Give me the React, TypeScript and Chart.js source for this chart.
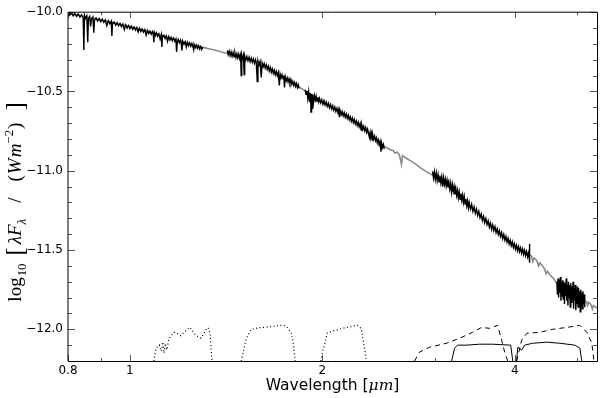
import React, { useEffect, useRef } from "react";
import { Chart, registerables } from "chart.js";
Chart.register(...registerables);

// ---- axis ticks ----
const xMajorTicks = [0.8, 1, 2, 4];
const xMinorTicks = [0.9, 3, 5];
const yMajorTicks = [-12.0, -11.5, -11.0, -10.5, -10.0];
const yMinorTicks = [-12.1, -11.9, -11.8, -11.7, -11.6, -11.4, -11.3, -11.2, -11.1, -10.9, -10.8, -10.7, -10.6, -10.4, -10.3, -10.2, -10.1];

// ---- model spectrum (gray) [wavelength um, log10 flux] ----
const modelSpectrum: number[][] = [
  [0.8, -10.008], [0.9, -10.048], [1.0, -10.09], [1.1, -10.134], [1.2, -10.184], [1.28, -10.214],
  [1.3, -10.222], [1.32, -10.228], [1.34, -10.234], [1.36, -10.24], [1.38, -10.246], [1.4, -10.254],
  [1.42, -10.26], [1.5, -10.284], [1.6, -10.318], [1.7, -10.386], [1.8, -10.446], [1.84, -10.474],
  [1.86, -10.484], [1.88, -10.496], [1.95, -10.54], [2.0, -10.57], [2.1, -10.616], [2.2, -10.666],
  [2.3, -10.716], [2.4, -10.786], [2.5, -10.846], [2.55, -10.866], [2.58, -10.872], [2.6, -10.89],
  [2.62, -10.882], [2.64, -10.9], [2.66, -10.96], [2.67, -10.905], [2.7, -10.918], [2.75, -10.938],
  [2.8, -10.958], [2.85, -10.982], [2.9, -11.002], [2.95, -11.02], [3.0, -11.036], [3.2, -11.126],
  [3.4, -11.224], [3.6, -11.312], [3.8, -11.4], [4.0, -11.474], [4.2, -11.526], [4.25, -11.538],
  [4.27, -11.572], [4.29, -11.55], [4.33, -11.566], [4.36, -11.6], [4.38, -11.58], [4.42, -11.6],
  [4.45, -11.616], [4.48, -11.65], [4.5, -11.634], [4.55, -11.66], [4.6, -11.68], [4.65, -11.706],
  [4.8, -11.75], [5.0, -11.79], [5.1, -11.81], [5.18, -11.826], [5.2, -11.85], [5.22, -11.83],
  [5.26, -11.842], [5.29, -11.872], [5.31, -11.85], [5.38, -11.866],
];

// ---- observed spectrum segments (black) ----
const obsSegment1: number[][] = [
  [0.8, -9.998], [0.805, -10.018], [0.81, -10.002], [0.815, -10.023], [0.82, -10.007], [0.825, -10.027],
  [0.83, -10.011], [0.835, -10.031], [0.84, -10.016], [0.845, -10.036], [0.847, -10.238], [0.849, -10.019],
  [0.852, -10.039], [0.856, -10.023], [0.859, -10.19], [0.861, -10.043], [0.865, -10.028], [0.868, -10.09],
  [0.87, -10.048], [0.875, -10.031], [0.878, -10.13], [0.88, -10.052], [0.885, -10.036], [0.89, -10.056],
  [0.895, -10.04], [0.9, -10.06], [0.905, -10.044], [0.91, -10.064], [0.915, -10.049], [0.92, -10.085],
  [0.925, -10.053], [0.93, -10.073], [0.935, -10.057], [0.937, -10.15], [0.939, -10.077], [0.945, -10.062],
  [0.95, -10.082], [0.955, -10.066], [0.96, -10.086], [0.965, -10.071], [0.97, -10.091], [0.975, -10.075],
  [0.98, -10.11], [0.985, -10.08], [0.99, -10.1], [0.995, -10.084], [1.0, -10.104], [1.005, -10.088],
  [1.01, -10.108], [1.015, -10.093], [1.02, -10.113], [1.025, -10.097], [1.03, -10.125], [1.035, -10.101],
  [1.04, -10.122], [1.045, -10.106], [1.05, -10.126], [1.055, -10.11], [1.06, -10.145], [1.065, -10.115],
  [1.07, -10.135], [1.075, -10.119], [1.08, -10.139], [1.085, -10.123], [1.088, -10.143], [1.09, -10.19],
  [1.092, -10.128], [1.096, -10.148], [1.1, -10.13], [1.105, -10.152], [1.11, -10.137], [1.115, -10.17],
  [1.12, -10.141], [1.122, -10.22], [1.124, -10.161], [1.13, -10.146], [1.135, -10.166], [1.14, -10.15],
  [1.145, -10.185], [1.15, -10.154], [1.155, -10.175], [1.16, -10.159], [1.165, -10.179], [1.17, -10.163],
  [1.175, -10.183], [1.18, -10.168], [1.183, -10.25], [1.186, -10.189], [1.19, -10.172], [1.195, -10.193],
  [1.2, -10.176], [1.203, -10.196], [1.206, -10.242], [1.209, -10.181], [1.215, -10.202], [1.22, -10.186],
  [1.225, -10.22], [1.23, -10.19], [1.235, -10.211], [1.24, -10.194], [1.245, -10.215], [1.25, -10.198],
  [1.255, -10.219], [1.258, -10.236], [1.26, -10.203], [1.265, -10.224], [1.27, -10.207], [1.275, -10.228],
  [1.28, -10.212], [1.285, -10.232], [1.29, -10.216], [1.295, -10.236], [1.3, -10.22],
];

const obsSegment2: number[][] = [
  [1.42, -10.241], [1.425, -10.268], [1.43, -10.246], [1.435, -10.274], [1.44, -10.251], [1.445, -10.278],
  [1.45, -10.254], [1.455, -10.282], [1.46, -10.258], [1.465, -10.286], [1.47, -10.262], [1.475, -10.288],
  [1.48, -10.264], [1.485, -10.292], [1.49, -10.268], [1.493, -10.4], [1.496, -10.272], [1.5, -10.294],
  [1.505, -10.272], [1.509, -10.394], [1.512, -10.276], [1.518, -10.302], [1.524, -10.28], [1.53, -10.306],
  [1.536, -10.284], [1.542, -10.312], [1.548, -10.29], [1.554, -10.316], [1.56, -10.294], [1.566, -10.322],
  [1.572, -10.3], [1.577, -10.326], [1.582, -10.438], [1.586, -10.308], [1.592, -10.332], [1.598, -10.312],
  [1.605, -10.412], [1.61, -10.32], [1.616, -10.344], [1.622, -10.324], [1.628, -10.352], [1.634, -10.332],
  [1.64, -10.36], [1.646, -10.34], [1.652, -10.37], [1.658, -10.348], [1.664, -10.378], [1.67, -10.358],
  [1.676, -10.386], [1.682, -10.366], [1.688, -10.394], [1.694, -10.374], [1.7, -10.4], [1.706, -10.38],
  [1.713, -10.462], [1.718, -10.39], [1.724, -10.414], [1.73, -10.394], [1.736, -10.42], [1.741, -10.4],
  [1.745, -10.475], [1.75, -10.408], [1.756, -10.432], [1.762, -10.414], [1.768, -10.44], [1.774, -10.42],
  [1.78, -10.446], [1.786, -10.426], [1.792, -10.454], [1.798, -10.436], [1.804, -10.462], [1.81, -10.444],
  [1.816, -10.468], [1.822, -10.45], [1.828, -10.476], [1.834, -10.458], [1.84, -10.48],
];

const obsSegment3: number[][] = [
  [1.88, -10.49], [1.886, -10.518], [1.892, -10.496], [1.898, -10.546], [1.904, -10.502], [1.91, -10.566],
  [1.916, -10.51], [1.92, -10.63], [1.924, -10.516], [1.928, -10.606], [1.932, -10.518], [1.938, -10.566],
  [1.944, -10.526], [1.95, -10.554], [1.956, -10.53], [1.962, -10.562], [1.968, -10.536], [1.974, -10.566],
  [1.98, -10.544], [1.988, -10.572], [1.996, -10.552], [2.004, -10.58], [2.012, -10.558], [2.02, -10.586],
  [2.028, -10.566], [2.036, -10.594], [2.044, -10.574], [2.052, -10.602], [2.06, -10.582], [2.068, -10.61],
  [2.076, -10.59], [2.084, -10.618], [2.092, -10.598], [2.1, -10.626], [2.108, -10.606], [2.116, -10.634],
  [2.122, -10.614], [2.127, -10.662], [2.132, -10.62], [2.14, -10.646], [2.148, -10.626], [2.156, -10.654],
  [2.164, -10.634], [2.172, -10.662], [2.18, -10.642], [2.188, -10.67], [2.196, -10.65], [2.204, -10.678],
  [2.212, -10.66], [2.22, -10.688], [2.228, -10.668], [2.236, -10.696], [2.244, -10.676], [2.252, -10.704],
  [2.26, -10.686], [2.268, -10.714], [2.276, -10.694], [2.284, -10.722], [2.292, -10.702], [2.3, -10.744],
  [2.306, -10.712], [2.314, -10.74], [2.322, -10.72], [2.33, -10.748], [2.338, -10.728], [2.346, -10.758],
  [2.354, -10.738], [2.362, -10.768], [2.37, -10.79], [2.376, -10.758], [2.382, -10.784], [2.388, -10.764],
  [2.393, -10.806], [2.398, -10.774], [2.406, -10.802], [2.414, -10.782], [2.422, -10.81], [2.43, -10.792],
  [2.438, -10.824], [2.446, -10.804], [2.454, -10.834], [2.462, -10.814], [2.47, -10.88], [2.476, -10.826],
  [2.484, -10.854], [2.492, -10.834], [2.5, -10.862],
];

const obsSegment4: number[][] = [
  [2.975, -11.004], [2.985, -11.046], [2.995, -11.006], [3.005, -11.054], [3.015, -11.014], [3.025, -11.062],
  [3.035, -11.024], [3.045, -11.07], [3.055, -11.03], [3.065, -11.076], [3.075, -11.038], [3.085, -11.1],
  [3.095, -11.044], [3.105, -11.086], [3.115, -11.052], [3.125, -11.096], [3.135, -11.06], [3.145, -11.104],
  [3.155, -11.072], [3.165, -11.114], [3.175, -11.078], [3.185, -11.134], [3.195, -11.088], [3.205, -11.13],
  [3.215, -11.098], [3.225, -11.15], [3.235, -11.112], [3.245, -11.156], [3.255, -11.124], [3.265, -11.17],
  [3.275, -11.134], [3.285, -11.18], [3.295, -11.144], [3.305, -11.186], [3.315, -11.154], [3.325, -11.2],
  [3.335, -11.164], [3.345, -11.21], [3.355, -11.178], [3.365, -11.22], [3.375, -11.19], [3.385, -11.234],
  [3.395, -11.2], [3.41, -11.242], [3.425, -11.212], [3.44, -11.256], [3.455, -11.228], [3.47, -11.268],
  [3.485, -11.242], [3.5, -11.282], [3.515, -11.256], [3.53, -11.296], [3.545, -11.272], [3.56, -11.314],
  [3.575, -11.288], [3.59, -11.328], [3.605, -11.302], [3.62, -11.34], [3.635, -11.316], [3.65, -11.356],
  [3.665, -11.33], [3.68, -11.37], [3.695, -11.342], [3.71, -11.378], [3.725, -11.352], [3.74, -11.39],
  [3.755, -11.366], [3.77, -11.402], [3.785, -11.378], [3.8, -11.414], [3.815, -11.39], [3.83, -11.428],
  [3.845, -11.402], [3.86, -11.438], [3.875, -11.414], [3.89, -11.45], [3.905, -11.426], [3.92, -11.462],
  [3.935, -11.438], [3.95, -11.472], [3.965, -11.448], [3.98, -11.484], [3.995, -11.46], [4.01, -11.494],
  [4.025, -11.47], [4.04, -11.504], [4.055, -11.478], [4.07, -11.51], [4.085, -11.486], [4.1, -11.52],
  [4.115, -11.494], [4.13, -11.528], [4.145, -11.502], [4.16, -11.536], [4.175, -11.51], [4.19, -11.544],
  [4.205, -11.518], [4.215, -11.55], [4.218, -11.46], [4.22, -11.58], [4.222, -11.52],
];

const obsSegment5: number[][] = [
  [4.655, -11.7], [4.665, -11.78], [4.675, -11.68], [4.685, -11.8], [4.695, -11.69], [4.705, -11.77],
  [4.715, -11.67], [4.725, -11.82], [4.735, -11.7], [4.745, -11.79], [4.755, -11.69], [4.765, -11.81],
  [4.775, -11.7], [4.785, -11.84], [4.795, -11.71], [4.805, -11.79], [4.815, -11.68], [4.825, -11.82],
  [4.835, -11.72], [4.845, -11.85], [4.855, -11.7], [4.865, -11.8], [4.875, -11.72], [4.885, -11.86],
  [4.895, -11.71], [4.905, -11.83], [4.915, -11.73], [4.925, -11.81], [4.935, -11.7], [4.945, -11.87],
  [4.955, -11.74], [4.965, -11.82], [4.975, -11.72], [4.985, -11.88], [4.995, -11.75], [5.005, -11.84],
  [5.015, -11.73], [5.025, -11.86], [5.035, -11.74], [5.045, -11.83], [5.055, -11.76], [5.065, -11.89],
  [5.075, -11.75], [5.085, -11.85], [5.095, -11.77], [5.105, -11.87], [5.115, -11.76], [5.125, -11.84],
  [5.135, -11.78], [5.145, -11.86], [5.15, -11.8],
];

// ---- filter transmission curves (plotted on flux axis) ----
const filterJ: number[][] = [
  [1.09, -12.2], [1.098, -12.12], [1.112, -12.1], [1.12, -12.14], [1.126, -12.08], [1.131, -12.15],
  [1.136, -12.09], [1.142, -12.13], [1.151, -12.06], [1.172, -12.019], [1.19, -12.03], [1.202, -12.04],
  [1.222, -12.01], [1.242, -11.988], [1.269, -12.04], [1.292, -12.056], [1.32, -11.994], [1.326, -11.99],
  [1.335, -12.03], [1.344, -12.2],
];
const filterH: number[][] = [
  [1.493, -12.2], [1.52, -12.06], [1.548, -12.0], [1.593, -11.99], [1.651, -11.985], [1.713, -11.975],
  [1.756, -11.98], [1.787, -12.02], [1.8, -12.08], [1.814, -12.2],
];
const filterK: number[][] = [
  [1.99, -12.2], [2.0, -12.15], [2.036, -12.025], [2.08, -12.01], [2.15, -11.994], [2.269, -11.975],
  [2.3, -11.994], [2.32, -12.08], [2.344, -12.2],
];
const filterDashed1: number[][] = [
  [2.788, -12.2], [2.838, -12.144], [2.943, -12.113], [3.129, -12.088], [3.28, -12.056], [3.437, -12.019],
  [3.55, -11.988], [3.655, -11.994], [3.761, -11.975], [3.816, -12.069], [3.858, -12.144], [3.9, -12.2],
];
const filterDashed2: number[][] = [
  [4.028, -12.2], [4.101, -12.069], [4.177, -12.025], [4.377, -12.019], [4.589, -12.0], [4.826, -11.988],
  [5.058, -11.975], [5.187, -12.019], [5.281, -12.088], [5.32, -12.2],
];
const filterSolid1: number[][] = [
  [3.186, -12.2], [3.221, -12.119], [3.256, -12.1], [3.364, -12.1], [3.525, -12.094], [3.694, -12.094],
  [3.942, -12.1], [3.972, -12.2],
];
const filterSolid2: number[][] = [
  [4.028, -12.2], [4.044, -12.113], [4.101, -12.131], [4.146, -12.1], [4.268, -12.088], [4.49, -12.081],
  [4.706, -12.088], [4.967, -12.1], [5.058, -12.119], [5.094, -12.2],
];

// ---- texts ----
const xTitleMain = "Wavelength [";
const xTitleUnit = "\u03bcm";
const xTitleEnd = "]";
// g = gap (px) placed before the part
const yTitleParts = [
  { t: "log", it: false, s: 1, dy: 0, g: 0 },
  { t: "10", it: false, s: 0.68, dy: 0.25, g: 1 },
  { t: "[", it: false, s: 1.3, dy: 0.08, g: 8 },
  { t: "\u03bbF", it: true, s: 1, dy: 0, g: 3 },
  { t: "\u03bb", it: true, s: 0.68, dy: 0.25, g: 0 },
  { t: "/", it: false, s: 1, dy: 0, g: 16 },
  { t: "(", it: false, s: 1, dy: 0, g: 16 },
  { t: "W", it: true, s: 1, dy: 0, g: 1 },
  { t: "m", it: true, s: 1, dy: 0, g: 1 },
  { t: "\u22122", it: false, s: 0.68, dy: -0.42, g: 0 },
  { t: ")", it: false, s: 1, dy: 0, g: 1 },
  { t: "]", it: false, s: 1.3, dy: 0.08, g: 12 },
];

const toXY = (arr: number[][]) => arr.map(([x, y]) => ({ x, y }));

const decorPlugin = {
  id: "decor",
  afterDatasetsDraw(chart: any) {
    const { ctx, chartArea: a, scales } = chart;
    const xs = scales.x;
    const ys = scales.y;
    ctx.save();
    // ticks
    ctx.strokeStyle = "#555";
    ctx.lineWidth = 1;
    const drawX = (v: number, len: number) => {
      const p = Math.round(xs.getPixelForValue(v)) + 0.5;
      ctx.beginPath();
      ctx.moveTo(p, a.bottom);
      ctx.lineTo(p, a.bottom - len);
      ctx.moveTo(p, a.top);
      ctx.lineTo(p, a.top + len);
      ctx.stroke();
    };
    const drawY = (v: number, len: number) => {
      const p = Math.round(ys.getPixelForValue(v)) + 0.5;
      ctx.beginPath();
      ctx.moveTo(a.left, p);
      ctx.lineTo(a.left + len, p);
      ctx.moveTo(a.right, p);
      ctx.lineTo(a.right - len, p);
      ctx.stroke();
    };
    xMajorTicks.forEach((v) => drawX(v, 6));
    xMinorTicks.forEach((v) => drawX(v, 3));
    yMajorTicks.forEach((v) => drawY(v, 7));
    yMinorTicks.forEach((v) => drawY(v, 4));
    // frame
    ctx.strokeStyle = "#000";
    ctx.beginPath();
    ctx.moveTo(a.left, a.top);
    ctx.lineTo(a.left, a.bottom);
    ctx.moveTo(a.left, a.top);
    ctx.lineTo(a.right, a.top);
    ctx.stroke();
    ctx.beginPath();
    ctx.moveTo(a.right + 0.5, a.top);
    ctx.lineTo(a.right + 0.5, a.bottom + 0.5);
    ctx.moveTo(a.left, a.bottom + 0.5);
    ctx.lineTo(a.right + 0.5, a.bottom + 0.5);
    ctx.stroke();

    // x title
    ctx.fillStyle = "#000";
    ctx.textBaseline = "alphabetic";
    const fs = 15.5;
    const f1 = `${fs}px "DejaVu Sans"`;
    const f2 = `italic ${fs}px "DejaVu Serif"`;
    ctx.font = f1;
    const w1 = ctx.measureText(xTitleMain).width;
    const w3 = ctx.measureText(xTitleEnd).width;
    ctx.font = f2;
    const w2 = ctx.measureText(xTitleUnit).width;
    const total = w1 + w2 + w3;
    let xx = (a.left + a.right) / 2 - total / 2;
    const by = 390;
    ctx.font = f1;
    ctx.fillText(xTitleMain, xx, by);
    xx += w1;
    ctx.font = f2;
    ctx.fillText(xTitleUnit, xx, by);
    xx += w2;
    ctx.font = f1;
    ctx.fillText(xTitleEnd, xx, by);

    // y title (rotated)
    const size = 19;
    const fontFor = (p: any) => `${p.it ? "italic " : ""}${size * p.s}px "Liberation Serif"`;
    let len = 0;
    const widths = yTitleParts.map((p) => {
      ctx.font = fontFor(p);
      const m = ctx.measureText(p.t).width;
      len += m + p.g;
      return m;
    });
    ctx.translate(21, 202);
    ctx.rotate(-Math.PI / 2);
    let cx = -len / 2;
    yTitleParts.forEach((p, i) => {
      cx += p.g;
      ctx.font = fontFor(p);
      ctx.fillText(p.t, cx, p.dy * size);
      cx += widths[i];
    });
    ctx.restore();
  },
};

export default function App() {
  const ref = useRef<HTMLCanvasElement | null>(null);
  useEffect(() => {
    if (!ref.current) return;
    const black = { borderColor: "#000", borderWidth: 1, pointRadius: 0, tension: 0, order: 1 };
    const obs = { ...black, borderWidth: 1.4 };
    const chart = new Chart(ref.current, {
      type: "line",
      data: {
        datasets: [
          { ...obs, data: toXY(obsSegment1) },
          { ...obs, data: toXY(obsSegment2) },
          { ...obs, data: toXY(obsSegment3) },
          { ...obs, data: toXY(obsSegment4) },
          { ...obs, data: toXY(obsSegment5) },
          { borderColor: "#8a8a8a", borderWidth: 1.6, pointRadius: 0, tension: 0, order: 5, data: toXY(modelSpectrum) },
          { ...black, borderWidth: 1.2, borderDash: [1, 2.5], data: toXY(filterJ) },
          { ...black, borderWidth: 1.2, borderDash: [1, 2.5], data: toXY(filterH) },
          { ...black, borderWidth: 1.2, borderDash: [1, 2.5], data: toXY(filterK) },
          { ...black, borderDash: [5, 4], data: toXY(filterDashed1) },
          { ...black, borderDash: [5, 4], data: toXY(filterDashed2) },
          { ...black, data: toXY(filterSolid1) },
          { ...black, data: toXY(filterSolid2) },
        ] as any,
      },
      options: {
        animation: false,
        responsive: false,
        devicePixelRatio: 1,
        layout: { padding: { top: 9, right: 3, left: 0, bottom: 0 } },
        plugins: { legend: { display: false }, tooltip: { enabled: false }, title: { display: false } },
        scales: {
          x: {
            type: "logarithmic",
            min: 0.8,
            max: 5.38,
            grid: { display: false, drawTicks: false },
            border: { display: false },
            afterBuildTicks: (s: any) => {
              s.ticks = xMajorTicks.map((v) => ({ value: v }));
            },
            afterFit: (s: any) => {
              s.height = 37;
            },
            ticks: {
              autoSkip: false,
              maxRotation: 0,
              minRotation: 0,
              padding: 3,
              color: "#000",
              font: { family: "DejaVu Sans", size: 12 },
              callback: (v: any) => String(v),
            },
          },
          y: {
            type: "linear",
            min: -12.2,
            max: -10.0,
            grid: { display: false, drawTicks: false },
            border: { display: false },
            afterBuildTicks: (s: any) => {
              s.ticks = yMajorTicks.map((v) => ({ value: v }));
            },
            afterFit: (s: any) => {
              s.width = 68;
            },
            ticks: {
              padding: 5,
              color: "#000",
              font: { family: "DejaVu Sans", size: 12 },
              callback: (v: any) => Number(v).toFixed(1).replace("-", "\u2212"),
            },
          },
        },
      } as any,
      plugins: [decorPlugin],
    });
    return () => chart.destroy();
  }, []);
  return (
    <div style={{ position: "fixed", left: 0, top: 0, width: 600, height: 398, background: "#fff" }}>
      <canvas ref={ref} width={600} height={398} style={{ display: "block" }} />
    </div>
  );
}
